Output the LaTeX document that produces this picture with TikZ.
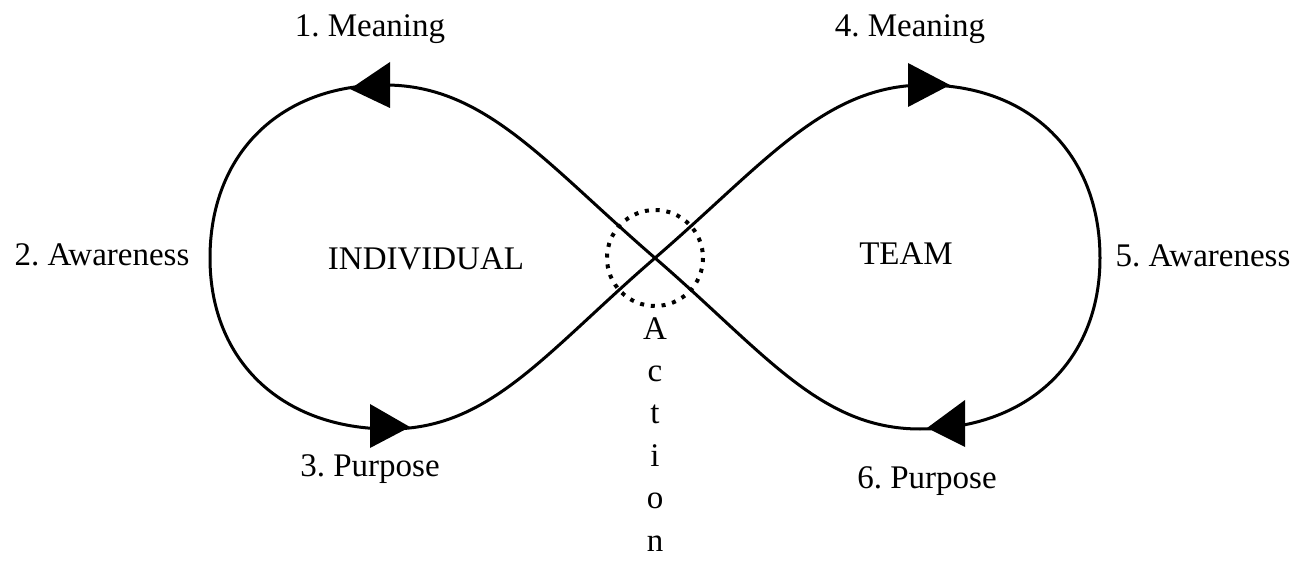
\documentclass[tikz,border=0pt]{standalone}
\usepackage{fontspec}
\setmainfont{Liberation Serif}
\frenchspacing
\begin{document}
\begin{tikzpicture}[x=0.5pt,y=-0.5pt,
  loopline/.style={line width=1.5pt},
  head/.style={fill=black},
  lbl/.style={font=\fontsize{16.5}{22}\selectfont, inner sep=0pt, anchor=base},
  ring/.style={line width=2pt, dash pattern=on 2pt off 3.4pt}]
\useasboundingbox (0,0) rectangle (1302,561);
% key points
\coordinate (C) at (655,258);
\coordinate (TL) at (385,85);
\coordinate (L) at (210,258);
\coordinate (BL) at (390,429);
\coordinate (TR) at (925,85);
\coordinate (R) at (1100,258);
\coordinate (BR) at (920,429);
% figure eight
\draw[loopline] (C) .. controls (545,163) and (485,85) .. (TL)
  .. controls (280,85) and (210,154) .. (L)
  .. controls (210,361) and (282,429) .. (BL)
  .. controls (490,429) and (545,353) .. (C)
  .. controls (765,163) and (825,85) .. (TR)
  .. controls (1030,85) and (1100,154) .. (R)
  .. controls (1100,361) and (1028,429) .. (BR)
  .. controls (820,429) and (765,353) .. (C);
% arrowheads
\fill[head] (350,89) -- (390,62) -- (390,108) -- cycle;
\fill[head] (410,427) -- (370,404) -- (370,448) -- cycle;
\fill[head] (950,85) -- (908,63) -- (908,107) -- cycle;
\fill[head] (927,428) -- (965,400) -- (965,447) -- cycle;
% dotted ring
\draw[ring] (C) circle[radius=48];
% labels
\node[lbl] (m1) at (370,37) {1. Meaning};
\node[lbl] (m4) at (910,37) {4. Meaning};
\node[lbl] (a2) at (102,266) {2. Awareness};
\node[lbl] (a5) at (1203,267) {5. Awareness};
\node[lbl] (p3) at (370,476) {3. Purpose};
\node[lbl] (p6) at (927,488) {6. Purpose};
\node[lbl] (ind) at (426,270) {INDIVIDUAL};
\node[lbl] (team) at (906,265) {TEAM};
\node[font=\fontsize{16.5}{21.2}\selectfont, inner sep=0pt, anchor=north, align=center] (act) at (655,317) {A\\c\\t\\i\\o\\n};
\end{tikzpicture}
\end{document}
